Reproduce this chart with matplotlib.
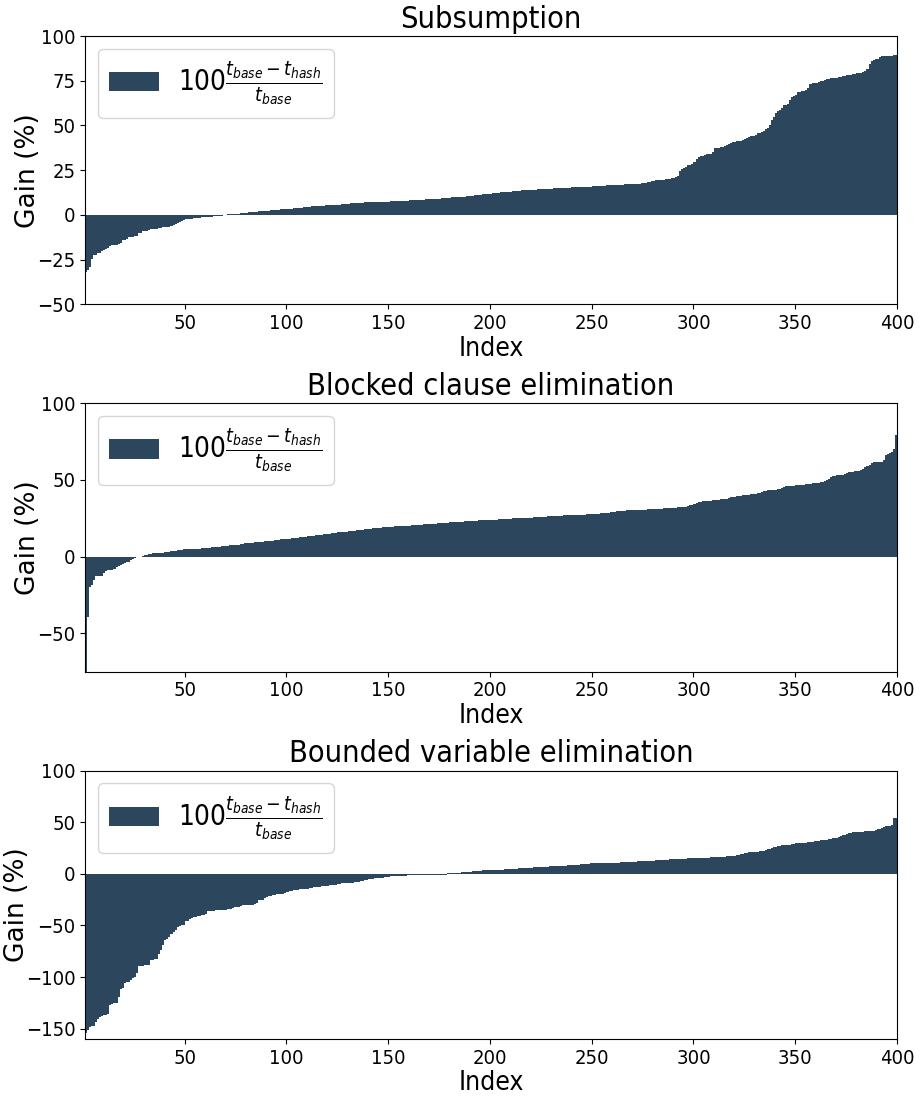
import numpy as np
import matplotlib
matplotlib.use("Agg")
import matplotlib.pyplot as plt

# ---------------- data (sorted gains, index 1..400) ----------------
titles = ["Subsumption", "Blocked clause elimination", "Bounded variable elimination"]

subsumption = [
    -31.8, -31.0, -28.8, -24.7, -22.6, -22.1, -21.4, -21.0, -20.3,
    -19.5, -19.2, -18.6, -17.2, -16.9, -16.9, -16.6, -16.3, -15.4,
    -14.2, -13.9, -13.4, -12.3, -12.1, -12.1, -11.9, -11.6, -10.2, -9.9,
    -9.2, -8.9, -8.9, -8.6, -8.1, -8.0, -8.0, -7.8, -7.5,
    -7.1, -6.9, -6.9, -6.8, -6.5, -6.1, -5.6, -5.0, -4.6, -4.0, -3.2,
    -2.7, -2.4, -2.4, -2.3, -2.0, -1.8, -1.7, -1.7, -1.6, -1.4,
    -1.2, -1.1, -1.1, -1.0, -0.9, -0.7, -0.6, -0.6, -0.5, -0.4, -0.2,
    0.1, 0.3, 0.4, 0.4, 0.5, 0.6, 0.8, 1.0, 1.1, 1.1, 1.2, 1.4,
    1.7, 1.8, 1.9, 1.9, 2.0, 2.0, 2.1, 2.2, 2.4,
    2.5, 2.6, 2.6, 2.7, 2.8, 2.9, 3.1, 3.2, 3.3, 3.3, 3.4, 3.5, 3.7,
    3.9, 4.0, 4.1, 4.1, 4.2, 4.4,
    4.6, 4.7, 4.8, 4.8, 4.8, 4.9, 4.9, 5.0, 5.1, 5.3,
    5.4, 5.5, 5.6, 5.6, 5.7, 5.7, 5.8, 6.0,
    6.2, 6.3, 6.4, 6.5, 6.5, 6.6, 6.6, 6.7, 6.8, 6.9,
    7.0, 7.0, 7.1, 7.1, 7.1, 7.2, 7.2, 7.3, 7.3, 7.4, 7.4,
    7.5, 7.5, 7.6, 7.6, 7.6, 7.7, 7.7, 7.8, 7.9, 7.9, 8.0, 8.1, 8.2,
    8.3, 8.4, 8.4, 8.5, 8.5, 8.6, 8.7, 8.8, 8.9,
    9.0, 9.1, 9.1, 9.2, 9.2, 9.3, 9.4, 9.5, 9.6, 9.7,
    9.8, 9.9, 10.0, 10.0, 10.1, 10.2, 10.3, 10.4, 10.5, 10.6, 10.8,
    11.0, 11.1, 11.2, 11.3, 11.5, 11.6, 11.8, 11.9, 12.0, 12.1, 12.2, 12.3, 12.5,
    12.6, 12.7, 12.8, 12.9, 13.0, 13.1, 13.2, 13.3, 13.4,
    13.6, 13.7, 13.8, 13.8, 13.9, 14.0,
    14.1, 14.2, 14.2, 14.3, 14.3, 14.4, 14.4, 14.5, 14.5, 14.6, 14.7,
    14.8, 14.9, 14.9, 15.0, 15.0, 15.1,
    15.2, 15.3, 15.3, 15.4, 15.4, 15.5, 15.5, 15.6, 15.6, 15.7, 15.7, 15.8,
    15.9, 16.0, 16.0, 16.1, 16.1, 16.2, 16.3,
    16.4, 16.5, 16.5, 16.6, 16.6, 16.7, 16.8,
    16.9, 17.0, 17.0, 17.1, 17.1, 17.2, 17.2, 17.3, 17.3, 17.4, 17.5, 17.6, 17.7,
    18.0, 18.3, 18.7, 19.0, 19.2, 19.3, 19.4, 19.5, 19.6,
    19.8, 19.9, 20.0, 20.3, 20.6, 20.8, 21.4, 21.9,
    24.3, 25.5, 26.5, 27.0, 27.8, 28.1, 28.5, 29.6,
    31.0, 32.6, 32.9, 33.2, 33.6, 33.8, 34.0, 34.3, 35.1,
    37.3, 37.5, 37.7, 37.9, 38.2, 38.7, 38.9, 39.6, 40.0,
    40.7, 40.9, 41.1, 41.4, 41.6, 41.9, 42.7, 42.9, 43.3, 44.0, 44.3, 44.8,
    45.6, 45.9, 46.2, 47.2, 48.2, 48.8, 50.0, 52.8, 54.6, 56.7,
    58.3, 58.8, 59.9, 61.3, 61.7, 62.2, 64.5, 66.0, 66.6, 67.3,
    68.6, 68.9, 69.1, 69.3, 69.6, 71.0, 73.2, 73.6, 73.8, 74.0, 74.2,
    74.6, 74.9, 75.5, 75.7, 76.0, 76.3, 76.5, 76.6, 76.8, 77.0,
    77.3, 77.5, 77.7, 78.0, 78.2, 78.4, 78.7, 79.0, 79.2, 79.4, 79.6,
    79.9, 80.4, 81.6, 84.4, 86.0, 86.7, 87.0, 87.3, 88.0,
    88.6, 88.8, 88.9, 89.0, 89.1, 89.1, 89.2, 89.2, 89.3,
]

blocked_clause = [
    -90.0, -39.4, -20.0, -18.7, -15.0, -12.9, -12.6, -12.5, -12.3, -10.8,
    -9.2, -9.0, -9.0, -8.7, -7.8, -6.9, -5.8, -5.5, -4.5, -4.2,
    -3.5, -3.2, -2.2, -1.3, -0.6, -0.4, -0.2, 0.1, 0.3, 1.1, 1.3,
    1.6, 1.8, 2.1, 2.2, 2.3, 2.4, 2.6, 2.7, 2.9, 3.1, 3.2, 3.4, 3.8, 4.0,
    4.3, 4.5, 4.6, 4.7, 4.7, 4.8, 4.8, 4.9, 5.0,
    5.1, 5.2, 5.3, 5.4, 5.6, 5.7, 5.8, 5.9, 6.0,
    6.1, 6.2, 6.3, 6.5, 6.7, 6.8, 6.9, 7.1, 7.3,
    7.5, 7.7, 7.8, 7.9, 8.1, 8.4, 8.6, 8.7, 8.9,
    9.1, 9.2, 9.3, 9.4, 9.5, 9.7, 9.8, 9.9, 10.0, 10.1, 10.3, 10.5,
    10.7, 10.8, 11.0,
    11.2, 11.4, 11.5, 11.7, 11.8, 12.0, 12.1, 12.3, 12.4, 12.6, 12.7, 12.9, 13.1,
    13.3, 13.5, 13.6, 13.8, 13.9, 14.0, 14.2, 14.3, 14.5, 14.7, 14.9, 15.1, 15.3,
    15.5, 15.6, 15.8, 15.9, 16.1, 16.2, 16.4, 16.5, 16.7, 16.8, 17.0, 17.2,
    17.4, 17.6, 17.7, 17.9, 18.0, 18.2, 18.3, 18.5, 18.6, 18.8, 18.9,
    19.0, 19.1, 19.2, 19.3, 19.4, 19.5, 19.6, 19.7, 19.8, 19.9,
    20.0, 20.1, 20.2, 20.3, 20.3, 20.4, 20.5, 20.6, 20.7, 20.8,
    20.9, 21.0, 21.1, 21.2, 21.3, 21.4, 21.5, 21.6, 21.7, 21.8, 21.9, 22.0, 22.1,
    22.2, 22.3, 22.4, 22.5, 22.6, 22.7, 22.8, 22.9, 23.0, 23.1, 23.2, 23.3, 23.4,
    23.5, 23.5, 23.6, 23.6, 23.7, 23.7, 23.8, 23.8, 23.9, 24.0, 24.1, 24.2,
    24.3, 24.4, 24.4, 24.5, 24.6, 24.7, 24.8,
    24.9, 25.0, 25.0, 25.1, 25.1, 25.2, 25.2, 25.3, 25.4, 25.5,
    25.6, 25.7, 25.8, 25.8, 25.9, 26.0, 26.1, 26.2,
    26.3, 26.4, 26.5, 26.5, 26.6, 26.7, 26.8,
    26.9, 26.9, 27.0, 27.0, 27.1, 27.1, 27.2, 27.2, 27.3, 27.3, 27.4, 27.5, 27.6,
    27.7, 27.8, 27.9, 28.0, 28.1, 28.3, 28.4, 28.5, 28.6, 28.7,
    28.9, 29.1, 29.3, 29.5, 29.7,
    29.9, 30.0, 30.0, 30.1, 30.1, 30.2, 30.2, 30.3, 30.3, 30.4, 30.5, 30.6,
    30.7, 30.8, 30.9, 31.0, 31.0, 31.1, 31.2, 31.3,
    31.4, 31.5, 31.5, 31.6, 31.7, 31.8, 31.9, 32.0,
    32.1, 32.2, 32.3, 32.4, 32.7, 33.0, 33.6, 34.0, 34.3, 34.8,
    35.6, 35.8, 36.0, 36.1, 36.2, 36.3, 36.5, 36.7, 36.9,
    37.1, 37.2, 37.3, 37.4, 37.6, 37.8, 38.2, 38.6,
    39.0, 39.2, 39.4, 39.5, 39.7, 39.9, 40.1, 40.3, 40.4, 40.6, 40.8,
    41.1, 41.4, 41.7, 42.1, 42.5, 42.9,
    43.2, 43.3, 43.4, 43.5, 43.6, 43.8, 44.2, 44.9, 45.5,
    45.8, 46.0, 46.1, 46.2, 46.3, 46.5,
    46.7, 46.8, 46.9, 47.0, 47.1, 47.3, 47.6,
    47.9, 48.1, 48.2, 48.3, 48.5, 48.8, 49.4, 50.2, 50.9, 51.7, 52.3,
    52.8, 53.0, 53.2, 53.3, 53.5, 53.8, 54.3, 54.9,
    55.2, 55.4, 55.6, 55.7, 55.9, 56.4, 57.0, 58.3, 58.8, 59.9,
    61.2, 61.6, 61.8, 61.9, 61.9, 62.0, 62.9, 66.3, 67.2, 67.5,
    68.5, 70.0, 79.0, 79.2,
]

bounded_variable = [
    -154.0, -151.0, -148.4, -147.8, -147.3, -143.6, -140.4, -138.7, -137.8,
    -136.8, -136.5, -136.2, -126.8, -126.3, -125.2, -124.8, -119.3,
    -111.5, -111.0, -106.0, -104.8, -104.5, -102.5, -100.8, -100.4, -96.0,
    -89.3, -89.1, -89.0, -88.8, -88.6, -88.0, -83.4, -83.1, -82.9, -82.6,
    -77.3, -74.0, -69.2, -64.3, -63.4, -61.1, -58.5, -56.3, -54.0, -51.4,
    -50.2, -49.8, -49.5, -46.2, -45.7, -43.5, -43.1, -41.9, -41.5,
    -40.9, -40.5, -39.8, -39.5, -39.2, -36.5, -36.2, -35.9,
    -35.6, -35.4, -35.3, -35.1, -34.9, -34.7, -34.6, -34.4, -34.2, -33.6,
    -32.3, -32.0, -31.7, -30.8, -30.6, -30.4, -30.2, -30.0,
    -29.9, -29.8, -29.6, -28.1, -25.8, -25.5, -25.2, -23.2, -22.8,
    -21.9, -21.5, -20.3, -20.1, -19.9, -19.7, -19.3, -19.1, -18.9, -17.5,
    -16.5, -16.3, -16.1, -15.9, -15.4, -15.2, -15.1, -14.9, -14.6, -14.3,
    -13.5, -13.3, -13.0, -12.7, -12.6, -12.4,
    -11.9, -11.7, -11.6, -11.4, -11.2, -11.0, -10.8, -10.6, -10.2, -9.7,
    -9.2, -9.0, -8.8, -8.7, -8.6, -8.5, -8.3, -8.1, -7.8, -7.4, -6.9,
    -5.9, -5.6, -5.4, -5.1, -4.7,
    -4.3, -4.1, -3.9, -3.8, -3.6, -3.4, -3.1, -2.8,
    -2.6, -2.4, -2.3, -2.2, -2.0, -1.9, -1.8, -1.7,
    -1.6, -1.6, -1.5, -1.5, -1.4, -1.4,
    -1.3, -1.3, -1.2, -1.2, -1.2, -1.1, -1.1, -1.1,
    -1.0, -1.0, -1.0, -0.9, -0.9, -0.9,
    0.8, 0.8, 0.9, 0.9, 1.0, 1.0, 1.1, 1.3, 1.6, 1.8, 2.0, 2.2, 2.4,
    2.7, 2.9, 3.0, 3.1, 3.2, 3.3, 3.4,
    3.5, 3.6, 3.6, 3.7, 3.8, 3.9, 4.0, 4.1, 4.2, 4.3,
    4.4, 4.5, 4.6, 4.8, 5.0, 5.2, 5.3, 5.4, 5.5, 5.6, 5.8, 6.0,
    6.2, 6.3, 6.4, 6.5, 6.6, 6.7, 6.8, 6.9, 7.1,
    7.2, 7.3, 7.4, 7.5, 7.6, 7.7, 7.8, 7.9, 8.1,
    8.3, 8.4, 8.5, 8.6, 8.8, 9.0, 9.2, 9.4, 9.6, 9.8,
    10.0, 10.1, 10.1, 10.2, 10.2, 10.3, 10.3, 10.4, 10.4, 10.5, 10.5, 10.6,
    10.7, 10.8, 10.9, 11.0, 11.1,
    11.2, 11.3, 11.4, 11.5, 11.6, 11.8,
    12.0, 12.1, 12.2, 12.3, 12.4, 12.5, 12.6, 12.7, 12.8, 13.0,
    13.1, 13.2, 13.3, 13.4, 13.5, 13.7, 13.9,
    14.0, 14.1, 14.2, 14.3, 14.4, 14.5, 14.6, 14.7, 14.9,
    15.0, 15.1, 15.2, 15.2, 15.3, 15.3, 15.4, 15.5, 15.6, 15.7, 15.8, 15.9, 16.0,
    16.1, 16.2, 16.3, 16.4, 16.6, 16.8, 17.0, 17.2, 17.4, 17.7,
    18.0, 18.3, 18.7, 19.2, 19.7, 20.3,
    20.8, 21.0, 21.1, 21.2, 21.4, 21.6, 21.9, 22.3, 22.9,
    23.8, 24.3, 24.8, 25.5, 26.0, 26.6, 27.0,
    27.4, 27.6, 27.8, 27.9, 28.1, 28.4, 28.8,
    29.4, 29.6, 29.8, 29.9, 30.0, 30.2, 30.5, 30.8, 31.2, 31.6,
    32.0, 32.2, 32.3, 32.5, 32.8, 33.2, 33.5,
    34.0, 34.2, 34.4, 34.8, 35.5, 36.2, 37.2, 38.0,
    38.8, 39.5, 39.8, 40.1,
    40.4, 40.6, 40.7, 40.8, 40.9, 41.0, 41.1, 41.2,
    41.5, 41.9, 42.4, 43.2, 43.7, 44.5,
    45.6, 46.0, 46.3, 46.6, 47.5, 54.0, 54.5, 55.0,
]

series = [subsumption, blocked_clause, bounded_variable]
ylims = [(-50, 100), (-75, 100), (-160, 100)]
yticks = [[-50, -25, 0, 25, 50, 75, 100],
          [-50, 0, 50, 100],
          [-150, -100, -50, 0, 50, 100]]
legend_label = r'$100\frac{t_{base}-t_{hash}}{t_{base}}$'
bar_color = '#2c475d'

# ---------------- style ----------------
plt.rcParams['mathtext.fontset'] = 'custom'
plt.rcParams['mathtext.rm'] = 'DejaVu Sans:stretch=condensed'
plt.rcParams['mathtext.it'] = 'DejaVu Sans:italic:stretch=condensed'
plt.rcParams['mathtext.bf'] = 'DejaVu Sans:bold:stretch=condensed'
plt.rcParams['mathtext.sf'] = 'DejaVu Sans:stretch=condensed'

cond = ['DejaVu Sans']
fig, axes = plt.subplots(3, 1, figsize=(9.24, 10.96), dpi=100)
fig.subplots_adjust(left=85 / 924, right=897 / 924, top=1 - 36 / 1096,
                    bottom=1 - 1039 / 1096, hspace=0.368)

for ax, vals, title, yl, yt in zip(axes, series, titles, ylims, yticks):
    x = np.arange(1, len(vals) + 1)
    ax.bar(x, vals, width=1.0, align='edge', color=bar_color,
           linewidth=0, label=legend_label)
    ax.set_xlim(1, 400)
    ax.set_ylim(*yl)
    ax.set_yticks(yt)
    ax.set_xticks([50, 100, 150, 200, 250, 300, 350, 400])
    ax.set_title(title, fontsize=22, family=cond, stretch='condensed')
    ax.set_xlabel('Index', fontsize=19, family=cond, stretch='condensed', labelpad=2)
    ax.set_ylabel('Gain (%)', fontsize=19, labelpad=-3)
    for lab in ax.get_xticklabels() + ax.get_yticklabels():
        lab.set_fontsize(14.5)
        lab.set_family(cond)
        lab.set_stretch('condensed')
    ax.legend(loc='upper left', fontsize=20, borderaxespad=0.45,
              handlelength=1.8, handletextpad=0.7, borderpad=0.4)

fig.savefig('out.png', dpi=100)
